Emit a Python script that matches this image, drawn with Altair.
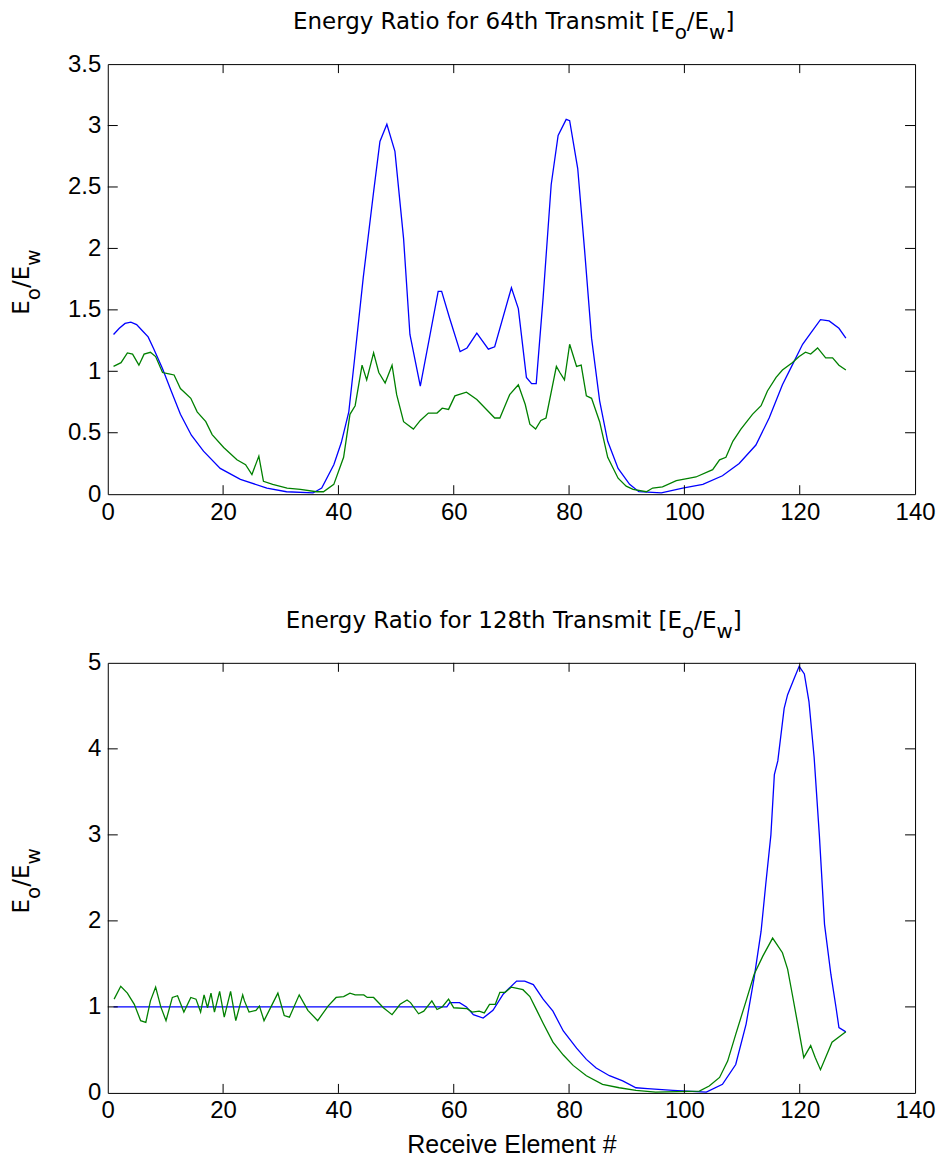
import altair as alt
import pandas as pd

# ---------------- data ----------------
X_TICKS = [0, 20, 40, 60, 80, 100, 120, 140]
TOP_Y_TICKS = [0, 0.5, 1, 1.5, 2, 2.5, 3, 3.5]
BOT_Y_TICKS = [0, 1, 2, 3, 4, 5]

top_blue_x = [1, 2, 3, 4, 5, 6, 7, 8, 9.5, 11, 12.6, 14.5, 16.6, 19.5, 23, 27.6, 31, 35.6, 37.1, 39.2,
              40.5, 41.8, 42.8, 44.3, 46.1, 47.2, 48.4, 49.8, 51.3, 52.4, 54.2, 55.9, 57.3, 57.9, 59.3,
              61.1, 62.3, 64, 66, 67.1, 70, 71.2, 72.6, 73.5, 74.3, 75.5, 76.9, 78.1, 79.5, 80.1, 81.5,
              82.7, 83.9, 85.3, 86.7, 88.5, 90.5, 92.1, 96, 99.7, 103.2, 106.6, 109.5, 112.4, 114.7,
              117, 118.7, 120.5, 121.9, 123.6, 125.1, 126.8, 128]
top_blue_y = [1.30, 1.35, 1.39, 1.40, 1.38, 1.33, 1.28, 1.18, 1.02, 0.84, 0.65, 0.48, 0.35, 0.21, 0.12,
              0.05, 0.02, 0.01, 0.05, 0.24, 0.42, 0.67, 1.10, 1.76, 2.46, 2.87, 3.01, 2.79, 2.08, 1.30,
              0.88, 1.30, 1.65, 1.65, 1.43, 1.16, 1.19, 1.31, 1.18, 1.20, 1.68, 1.51, 0.95, 0.90, 0.90,
              1.60, 2.52, 2.92, 3.05, 3.04, 2.65, 1.98, 1.27, 0.76, 0.43, 0.21, 0.08, 0.02, 0.01, 0.05,
              0.08, 0.15, 0.25, 0.40, 0.62, 0.89, 1.05, 1.22, 1.31, 1.42, 1.41, 1.35, 1.27]

top_green_x = [1, 2.3, 3.4, 4.3, 5.4, 6.3, 7.4, 8.3, 9.5, 10.6, 11.5, 12.6, 14.4, 15.5, 17, 18.1, 20.1,
               22.4, 23.9, 25, 26.2, 27, 28.6, 31.1, 33.4, 36.2, 37.4, 39.2, 40.9, 42, 42.9, 44.1, 44.9,
               46.1, 47, 48.1, 49.3, 50.1, 51.3, 53, 54.2, 55.6, 57.1, 58, 59.1, 60.2, 62.2, 64, 67.1,
               68, 69.7, 71.2, 72.4, 73.2, 74.2, 75.1, 76, 77.8, 78.4, 79.2, 80.1, 81.3, 82.1, 83, 83.9,
               85.3, 86.7, 88.5, 89.9, 91.1, 93.4, 94.5, 96.2, 98.6, 100.9, 102, 104.9, 106.1, 107.2,
               108.4, 109.8, 111.8, 113.3, 114.4, 115.9, 117, 118.7, 119.9, 121, 121.9, 123.1, 124.5,
               125.7, 126.8, 128]
top_green_y = [1.04, 1.07, 1.15, 1.14, 1.05, 1.14, 1.155, 1.12, 0.99, 0.98, 0.97, 0.86, 0.78, 0.67,
               0.59, 0.485, 0.38, 0.28, 0.24, 0.16, 0.31, 0.105, 0.08, 0.05, 0.04, 0.02, 0.02, 0.08,
               0.30, 0.65, 0.72, 1.05, 0.93, 1.15, 0.99, 0.905, 1.05, 0.81, 0.59, 0.53, 0.60, 0.66, 0.66,
               0.70, 0.69, 0.80, 0.83, 0.77, 0.62, 0.62, 0.81, 0.89, 0.73, 0.57, 0.53, 0.60, 0.62, 1.04,
               0.99, 0.93, 1.22, 1.04, 1.05, 0.80, 0.78, 0.59, 0.30, 0.13, 0.065, 0.04, 0.02, 0.05, 0.06,
               0.11, 0.13, 0.14, 0.20, 0.28, 0.30, 0.43, 0.53, 0.65, 0.72, 0.84, 0.95, 1.01, 1.07, 1.12,
               1.155, 1.14, 1.19, 1.11, 1.11, 1.05, 1.01]

bot_blue_x = [1, 58.8, 59.3, 61, 62.2, 63.4, 65.1, 66.8, 68.6, 70.9, 72.3, 73.8, 75.5, 77.2, 79, 81.3,
              83, 84.7, 87, 89.3, 91.6, 93.6, 98, 103.8, 106.6, 108.9, 110.7, 112.1, 113.3, 114.1, 115,
              115.6, 116.2, 117.3, 117.9, 119.1, 119.9, 120.8, 121.6, 122.5, 123.4, 124.3, 125.4, 126.3,
              126.8, 128]
bot_blue_y = [1.0, 1.0, 1.05, 1.05, 1.0, 0.91, 0.87, 0.96, 1.15, 1.30, 1.30, 1.26, 1.09, 0.95, 0.72,
              0.52, 0.39, 0.29, 0.20, 0.14, 0.06, 0.05, 0.03, 0.01, 0.10, 0.33, 0.80, 1.34, 1.88, 2.42,
              3.0, 3.70, 3.86, 4.47, 4.63, 4.83, 4.96, 4.87, 4.55, 3.9, 3.0, 1.96, 1.38, 0.99, 0.76, 0.71]

bot_green_x = [1.1, 2.25, 3.4, 4.6, 5.7, 6.6, 7.4, 8.3, 9.2, 10.1, 11.2, 12.1, 13.2, 14.4, 15.3, 16.1,
               16.7, 17.3, 17.9, 18.5, 19.4, 20.2, 21.3, 22.2, 23.4, 23.7, 24.5, 25.7, 26.3, 27.1, 28.3,
               29.5, 30.6, 31.5, 33.2, 34.7, 36.4, 38.2, 39.6, 40.9, 42, 42.9, 44.4, 45, 46.1, 47.8, 49.3,
               50.7, 51.9, 52.5, 53.9, 54.8, 56.2, 57.1, 58, 59.1, 60, 62.3, 63.2, 64.4, 65.3, 66.2, 67.2,
               68, 68.9, 70, 72, 73.2, 74.4, 75.5, 77.2, 79, 80.7, 83, 85.8, 88.7, 91.6, 95, 102.6, 104.3,
               106.1, 107.5, 108.9, 110.7, 112.1, 113.6, 115.3, 117, 117.9, 118.7, 119.6, 120.7, 121.9,
               122.7, 123.6, 125.6, 128]
bot_green_y = [1.09, 1.24, 1.16, 1.03, 0.84, 0.82, 1.07, 1.23, 1.0, 0.84, 1.11, 1.13, 0.94, 1.11, 1.09,
               0.94, 1.14, 0.99, 1.16, 0.94, 1.18, 0.88, 1.18, 0.84, 1.14, 1.07, 0.94, 0.96, 1.01, 0.84,
               1.0, 1.16, 0.90, 0.88, 1.14, 0.96, 0.84, 1.01, 1.11, 1.12, 1.16, 1.14, 1.14, 1.11, 1.11,
               0.99, 0.91, 1.03, 1.08, 1.05, 0.92, 0.95, 1.07, 0.97, 1.0, 1.09, 0.99, 0.98, 0.94, 0.95,
               0.93, 1.03, 1.03, 1.17, 1.17, 1.23, 1.20, 1.12, 0.96, 0.81, 0.59, 0.44, 0.32, 0.20, 0.10,
               0.06, 0.03, 0.01, 0.02, 0.08, 0.18, 0.37, 0.68, 1.07, 1.38, 1.59, 1.80, 1.63, 1.44, 1.15,
               0.82, 0.41, 0.55, 0.41, 0.27, 0.59, 0.71]

TOP_TITLE_MAIN = "Energy Ratio for 64th Transmit [E"
BOT_TITLE_MAIN = "Energy Ratio for 128th Transmit [E"
X_LABEL = "Receive Element #"

# ---------------- styling ----------------
W, H = 809, 431
BLUE, GREEN = "#0000ff", "#008000"
TFONT = "DejaVu Sans"
TSIZE, SSIZE = 23, 20
SUBDROP = 10

# DejaVu Sans advance widths (em)
ADV = {"E": 0.632, "o": 0.612, "w": 0.818, "/": 0.337, "]": 0.390, "[": 0.390, " ": 0.318,
       "n": 0.634, "e": 0.615, "r": 0.411, "g": 0.635, "y": 0.592, "R": 0.695, "a": 0.613,
       "t": 0.392, "i": 0.278, "f": 0.352, "h": 0.634, "T": 0.611, "s": 0.521, "m": 0.974,
       "1": 0.636, "2": 0.636, "4": 0.636, "6": 0.636, "8": 0.636}


def tw(s, size):
    return sum(ADV.get(c, 0.6) for c in s) * size


def text_piece(t, x, y, size, align="left", angle=0):
    kw = dict(font=TFONT, fontSize=size, align=align, baseline="alphabetic", color="#000")
    if angle:
        kw["angle"] = angle
    return alt.Chart(pd.DataFrame({"t": [t]})).mark_text(**kw).encode(
        text="t:N", x=alt.value(x), y=alt.value(y))


def title_layers(main):
    w_main = tw(main, TSIZE)
    w_o = tw("o", SSIZE)
    w_se = tw("/E", TSIZE)
    w_w = tw("w", SSIZE)
    w_b = tw("]", TSIZE)
    total = w_main + w_o + w_se + w_w + w_b
    xa = W / 2 - total / 2 + w_main
    yb = -35
    return [
        text_piece(main, xa, yb, TSIZE, align="right"),
        text_piece("o", xa, yb + SUBDROP, SSIZE),
        text_piece("/E", xa + w_o, yb, TSIZE),
        text_piece("w", xa + w_o + w_se, yb + SUBDROP, SSIZE),
        text_piece("]", xa + w_o + w_se + w_w, yb, TSIZE),
    ]


def ylabel_layers():
    w_e = tw("E", TSIZE)
    w_o = tw("o", SSIZE)
    w_se = tw("/E", TSIZE)
    w_w = tw("w", SSIZE)
    total = w_e + w_o + w_se + w_w
    y0 = H / 2 + 3 + total / 2
    xb = -79
    return [
        text_piece("E", xb, y0, TSIZE, angle=270),
        text_piece("o", xb + SUBDROP + 1, y0 - w_e, SSIZE, angle=270),
        text_piece("/E", xb, y0 - w_e - w_o, TSIZE, angle=270),
        text_piece("w", xb + SUBDROP + 1, y0 - w_e - w_o - w_se, SSIZE, angle=270),
    ]


def panel(bx, by, gx, gy, ydom, yticks, title_main, xlabel):
    df = pd.DataFrame({"x": bx + gx, "y": by + gy,
                       "s": ["blue"] * len(bx) + ["green"] * len(gx)})
    xs = alt.Scale(domain=[0, 140], nice=False, zero=False)
    ys = alt.Scale(domain=ydom, nice=False, zero=False)
    xaxis_kw = dict(values=X_TICKS, ticks=False, tickSize=0, domain=False, grid=False,
                    labelPadding=6, labelFlush=False, labelOverlap=False, labelBound=False,
                    labelFont="Liberation Sans", labelFontSize=24, labelColor="#000")
    if xlabel:
        xaxis_kw.update(titlePadding=10, titleFont="Liberation Sans", titleFontSize=25,
                        titleColor="#000", titleFontWeight="normal")
    xtitle = xlabel if xlabel else None
    xenc = alt.X("x:Q", scale=xs, axis=alt.Axis(**xaxis_kw), title=xtitle)
    yenc = alt.Y("y:Q", scale=ys, title=None,
                 axis=alt.Axis(values=yticks, ticks=False, tickSize=0, domain=False, grid=False,
                               labelPadding=7, format="~g", labelFlush=False,
                               labelOverlap=False, labelBound=False,
                               labelFont="Liberation Sans", labelFontSize=24, labelColor="#000"))
    lines = alt.Chart(df).mark_line(strokeWidth=1.3, clip=False).encode(
        x=xenc, y=yenc,
        color=alt.Color("s:N", scale=alt.Scale(domain=["blue", "green"], range=[BLUE, GREEN]),
                        legend=None))
    xt = pd.DataFrame({"v": X_TICKS[1:-1]})
    yt = pd.DataFrame({"v": yticks[1:-1]})
    tick_style = dict(color="#000", strokeWidth=1)
    xtb = alt.Chart(xt).mark_rule(**tick_style).encode(
        x=alt.X("v:Q", scale=xs, title=xtitle), y=alt.value(H), y2=alt.value(H - 9))
    xtt = alt.Chart(xt).mark_rule(**tick_style).encode(
        x=alt.X("v:Q", scale=xs, title=xtitle), y=alt.value(0), y2=alt.value(9))
    ytl = alt.Chart(yt).mark_rule(**tick_style).encode(
        y=alt.Y("v:Q", scale=ys, title=None), x=alt.value(0), x2=alt.value(10))
    ytr = alt.Chart(yt).mark_rule(**tick_style).encode(
        y=alt.Y("v:Q", scale=ys, title=None), x=alt.value(W), x2=alt.value(W - 10))
    layers = [lines, xtb, xtt, ytl, ytr] + title_layers(title_main) + ylabel_layers()
    return alt.layer(*layers).properties(width=W, height=H)


top = panel(top_blue_x, top_blue_y, top_green_x, top_green_y, [0, 3.5], TOP_Y_TICKS,
            TOP_TITLE_MAIN, None)
bot = panel(bot_blue_x, bot_blue_y, bot_green_x, bot_green_y, [0, 5], BOT_Y_TICKS,
            BOT_TITLE_MAIN, X_LABEL)

chart = alt.vconcat(top, bot, spacing=169, bounds="flush").properties(
    padding={"left": 10, "top": 9, "right": 5, "bottom": 5},
    background="#ffffff"
).configure_view(stroke="#000", strokeWidth=1).configure_axis(
    labelFont="Liberation Sans", labelFontSize=24, labelColor="#000",
    titleFont="Liberation Sans", titleFontSize=25, titleColor="#000", titleFontWeight="normal"
)

chart.save("out.html", embed_options={"renderer": "svg", "actions": False})
